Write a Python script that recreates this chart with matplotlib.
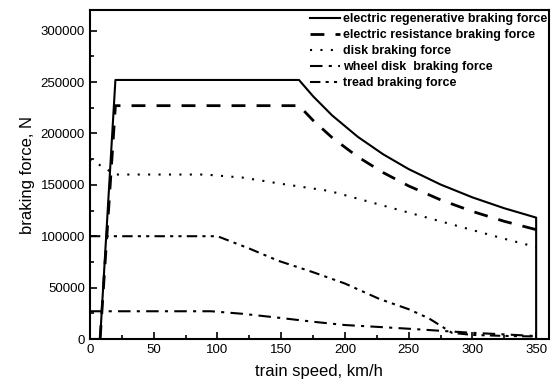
import numpy as np
import matplotlib.pyplot as plt
from matplotlib.ticker import MultipleLocator

plt.rcParams['font.family'] = ['Liberation Sans', 'DejaVu Sans']

# Тягові (гальмівні) характеристики, швидкість у км/год, сила у Н
v_regen = [0, 8, 20, 164, 175, 190, 210, 230, 250, 275, 300, 325, 350, 350]
f_regen = [0, 0, 252000, 252000, 236200, 217500, 196800, 179700, 165300, 150300, 137800, 127200, 118100, 0]

v_resist = [8, 20, 164, 175, 190, 210, 230, 250, 275, 300, 325, 350]
f_resist = [0, 227000, 227000, 212700, 195900, 177300, 161900, 148900, 135400, 124100, 114500, 106400]

v_disk = [0, 20, 90, 120, 150, 188, 225, 250, 275, 300, 325, 350]
f_disk = [175000, 160000, 160000, 157000, 151000, 144000, 131500, 123000, 114500, 106000, 97500, 89500]

v_wheel = [0, 50, 95, 120, 148, 175, 200, 227, 250, 275, 300, 325, 348]
f_wheel = [27000, 27000, 27000, 24500, 20700, 16800, 13600, 11700, 10000, 8000, 6000, 4500, 3000]

v_tread = [0, 50, 100, 125, 148, 175, 200, 227, 250, 266, 284, 300, 325, 348]
f_tread = [100000, 100000, 100000, 88000, 76000, 65000, 54000, 39000, 29000, 20000, 6000, 4000, 3000, 2500]

fig = plt.figure(figsize=(5.55, 3.87), dpi=100)
ax = fig.add_axes([0.162, 0.124, 0.827, 0.850])

ax.plot(v_regen, f_regen, color='black', lw=1.5, ls='-',
        label='electric regenerative braking force')
ax.plot(v_resist, f_resist, color='black', lw=2.0, ls=(0, (5, 4)),
        label='electric resistance braking force')
ax.plot(v_disk, f_disk, color='black', lw=1.5, ls=(0, (1, 4)),
        label='disk braking force')
ax.plot(v_wheel, f_wheel, color='black', lw=1.5, ls=(0, (6, 3, 1.5, 3)),
        label='wheel disk  braking force')
ax.plot(v_tread, f_tread, color='black', lw=1.5, ls=(0, (5, 2.5, 1.5, 2.5, 1.5, 2.5)),
        label='tread braking force')

ax.set_xlim(0, 360)
ax.set_ylim(0, 320000)
ax.xaxis.set_major_locator(MultipleLocator(50))
ax.xaxis.set_minor_locator(MultipleLocator(25))
ax.yaxis.set_major_locator(MultipleLocator(50000))
ax.yaxis.set_minor_locator(MultipleLocator(25000))
ax.tick_params(which='both', direction='in', top=False, right=False,
               labelsize=9.5, width=1.2)
ax.tick_params(which='major', length=5)
ax.tick_params(which='minor', length=3)
for s in ax.spines.values():
    s.set_linewidth(1.5)

ax.set_xlabel('train speed, km/h', fontsize=12, labelpad=6)
ax.set_ylabel('braking force, N', fontsize=12)

ax.legend(loc='upper right', bbox_to_anchor=(1.018, 1.02), frameon=False,
          prop={'size': 9, 'weight': 'bold'}, handlelength=2.4,
          handletextpad=0.2, labelspacing=0.32, borderpad=0.3)

plt.savefig('out.png', dpi=100)
